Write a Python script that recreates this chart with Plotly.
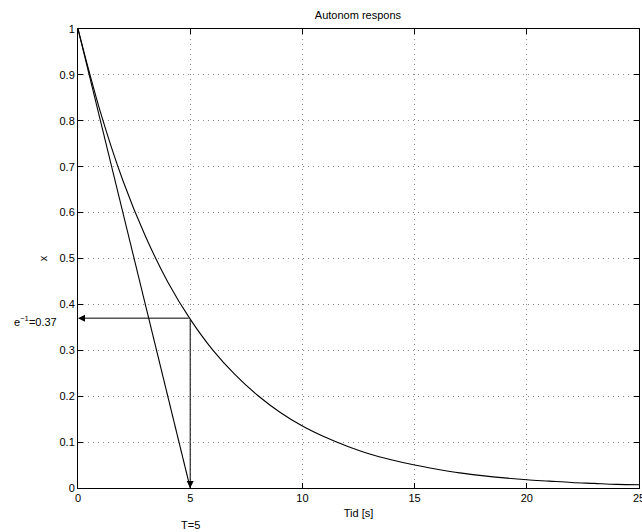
import plotly.graph_objects as go

# Data
t_values = list(range(0, 26))
x_values = [1.000, 0.819, 0.670, 0.549, 0.449, 0.368, 0.301, 0.247, 0.202, 0.165,
            0.135, 0.111, 0.091, 0.074, 0.061, 0.050, 0.041, 0.033, 0.027, 0.022,
            0.018, 0.015, 0.012, 0.010, 0.008, 0.007]
tangent_t = [0, 5]
tangent_x = [1, 0]
T_const = 5
x_at_T = 0.37
x_ticks = [0, 5, 10, 15, 20, 25]
y_ticks = [0, 0.1, 0.2, 0.3, 0.4, 0.5, 0.6, 0.7, 0.8, 0.9, 1]
y_tick_labels = ["0", "0.1", "0.2", "0.3", "0.4", "0.5", "0.6", "0.7", "0.8", "0.9", "1"]

FONT = "Liberation Sans, Arial, Helvetica, sans-serif"
FS = 11

fig = go.Figure()
fig.add_trace(go.Scatter(x=t_values, y=x_values, mode="lines", line_shape="spline",
                         line=dict(color="black", width=1.1), showlegend=False, hoverinfo="skip"))
fig.add_trace(go.Scatter(x=tangent_t, y=tangent_x, mode="lines",
                         line=dict(color="black", width=1.1), showlegend=False, hoverinfo="skip"))

# Arrows
fig.add_annotation(x=0, y=x_at_T, ax=T_const, ay=x_at_T, xref="x", yref="y", axref="x", ayref="y",
                   showarrow=True, arrowhead=2, arrowsize=1.4, arrowwidth=1, arrowcolor="black", text="")
fig.add_annotation(x=T_const, y=0, ax=T_const, ay=x_at_T, xref="x", yref="y", axref="x", ayref="y",
                   showarrow=True, arrowhead=2, arrowsize=1.4, arrowwidth=1, arrowcolor="black", text="")

fig.add_annotation(x=0, y=x_at_T, xref="paper", yref="y", xanchor="right", yanchor="middle",
                   xshift=-19, yshift=-3, showarrow=False,
                   text="e<sup>−1</sup>=0.37", font=dict(family=FONT, size=FS, color="black"))
fig.add_annotation(x=T_const, y=0, xref="x", yref="paper", xanchor="center", yanchor="middle",
                   yshift=-37, showarrow=False,
                   text="T=5", font=dict(family=FONT, size=FS, color="black"))

axis_common = dict(showline=True, linecolor="black", linewidth=1, mirror="ticks",
                   ticks="inside", ticklen=5, tickcolor="black", showgrid=True,
                   gridcolor="#8a8a8a", griddash="1px,4px", gridwidth=1, zeroline=False,
                   automargin=False, ticklabeloverflow="allow",
                   tickfont=dict(family=FONT, size=FS, color="black"))

fig.update_xaxes(range=[0, 25], tickvals=x_ticks, ticktext=[str(v) for v in x_ticks],
                 title=dict(text="Tid [s]", standoff=6, font=dict(family=FONT, size=FS, color="black")),
                 **axis_common)
fig.update_yaxes(range=[0, 1], tickvals=y_ticks, ticktext=y_tick_labels,
                 title=dict(text="x", standoff=9, font=dict(family=FONT, size=FS, color="black")),
                 **axis_common)

fig.update_layout(
    width=642, height=532,
    margin=dict(l=78, r=3, t=29, b=44, autoexpand=False),
    paper_bgcolor="white", plot_bgcolor="white",
    title=dict(text="Autonom respons", x=0.5575, xanchor="center", y=1 - 15 / 532, yanchor="middle",
               font=dict(family=FONT, size=FS, color="black"), automargin=False),
)

fig.write_html("out.html", config={"displayModeBar": False},
               post_script="document.body.style.margin='0';document.body.style.overflow='hidden';")
